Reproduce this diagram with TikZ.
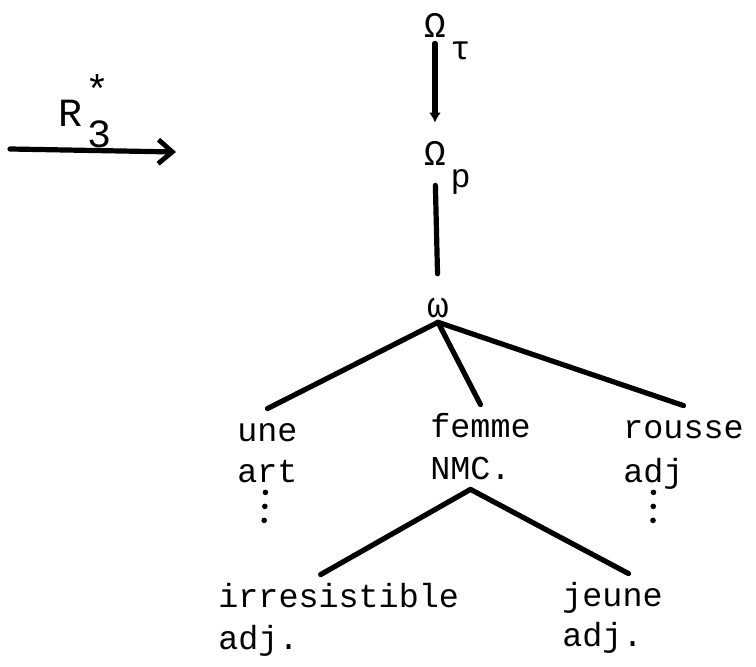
\documentclass[tikz,border=0pt]{standalone}
\usepackage{fontspec}
\setmainfont{Liberation Mono}
\usetikzlibrary{arrows.meta}

\begin{document}
\begin{tikzpicture}[x=0.5pt, y=-0.5pt, font=\fontsize{16.7}{20}\selectfont,
    word/.style={anchor=base west, inner xsep=0pt, inner ysep=4.5pt, text height=12pt, text depth=0pt},
    greek/.style={inner sep=2pt, font=\fontsize{18}{20}\selectfont},
    sub/.style={inner sep=0pt, anchor=north west},
    edge/.style={line width=2.6pt, line cap=round},
    dotline/.style={line width=2.8pt, line cap=round, dash pattern=on 0pt off 7pt}]
    \useasboundingbox (0,0) rectangle (756,667);

    % rule arrow on the left
    \coordinate (from) at (10,149);
    \coordinate (to) at (176,152);
    \draw[edge, -{Straight Barb[length=7pt, width=12pt, line width=2.4pt]}] (from) -- (to);
    \node[inner sep=2pt, font=\fontsize{20}{22}\selectfont,
        label={[inner sep=0pt, anchor=south west, xshift=-1pt, yshift=-4pt, font=\fontsize{20}{22}\selectfont]north east:*},
        label={[inner sep=0pt, anchor=north west, yshift=5pt, font=\fontsize{20}{22}\selectfont]south east:3}] (rule) at (71,113) {R};

    % top of the tree
    \node[greek, label={[sub]south east:τ}] (OmT) at (435,25) {Ω};
    \node[greek, label={[sub]south east:p}] (Omp) at (435,153) {Ω};
    \node[greek] (omega) at (438,308) {ω};
    \draw[edge, -{Latex[length=5pt, width=6pt]}, shorten <=1pt, shorten >=7pt] (OmT.south) -- (Omp.north);
    \draw[edge, shorten <=8pt, shorten >=10pt] (Omp.south) -- (omega.north);

    % the words
    \foreach \name/\word/\x/\y in {une/une/237/442, art/art/237/483,
        femme/femme/430/438, nmc/NMC./430/480,
        rousse/rousse/623/439, radj/adj/623/483,
        irr/irresistible/218/608, iadj/adj./218/650,
        jeune/jeune/562/607, jadj/adj./562/647} {
        \node[word] (\name) at (\x,\y) {\word};
    }

    \draw[edge] (omega.south) -- (une.north);
    \draw[edge] (omega.south) -- (femme.north);
    \draw[edge] (omega.south) -- (rousse.north);
    \draw[edge] (nmc.south) -- ([xshift=-9pt]irr.north);
    \draw[edge] (nmc.south) -- ([xshift=8pt]jeune.north);

    % dotted continuations
    \coordinate (artend) at (264,525);
    \coordinate (radjend) at (653,522);
    \draw[dotline] ([xshift=-1pt]art.south) -- (artend);
    \draw[dotline] (radj.south) -- (radjend);
\end{tikzpicture}
\end{document}
